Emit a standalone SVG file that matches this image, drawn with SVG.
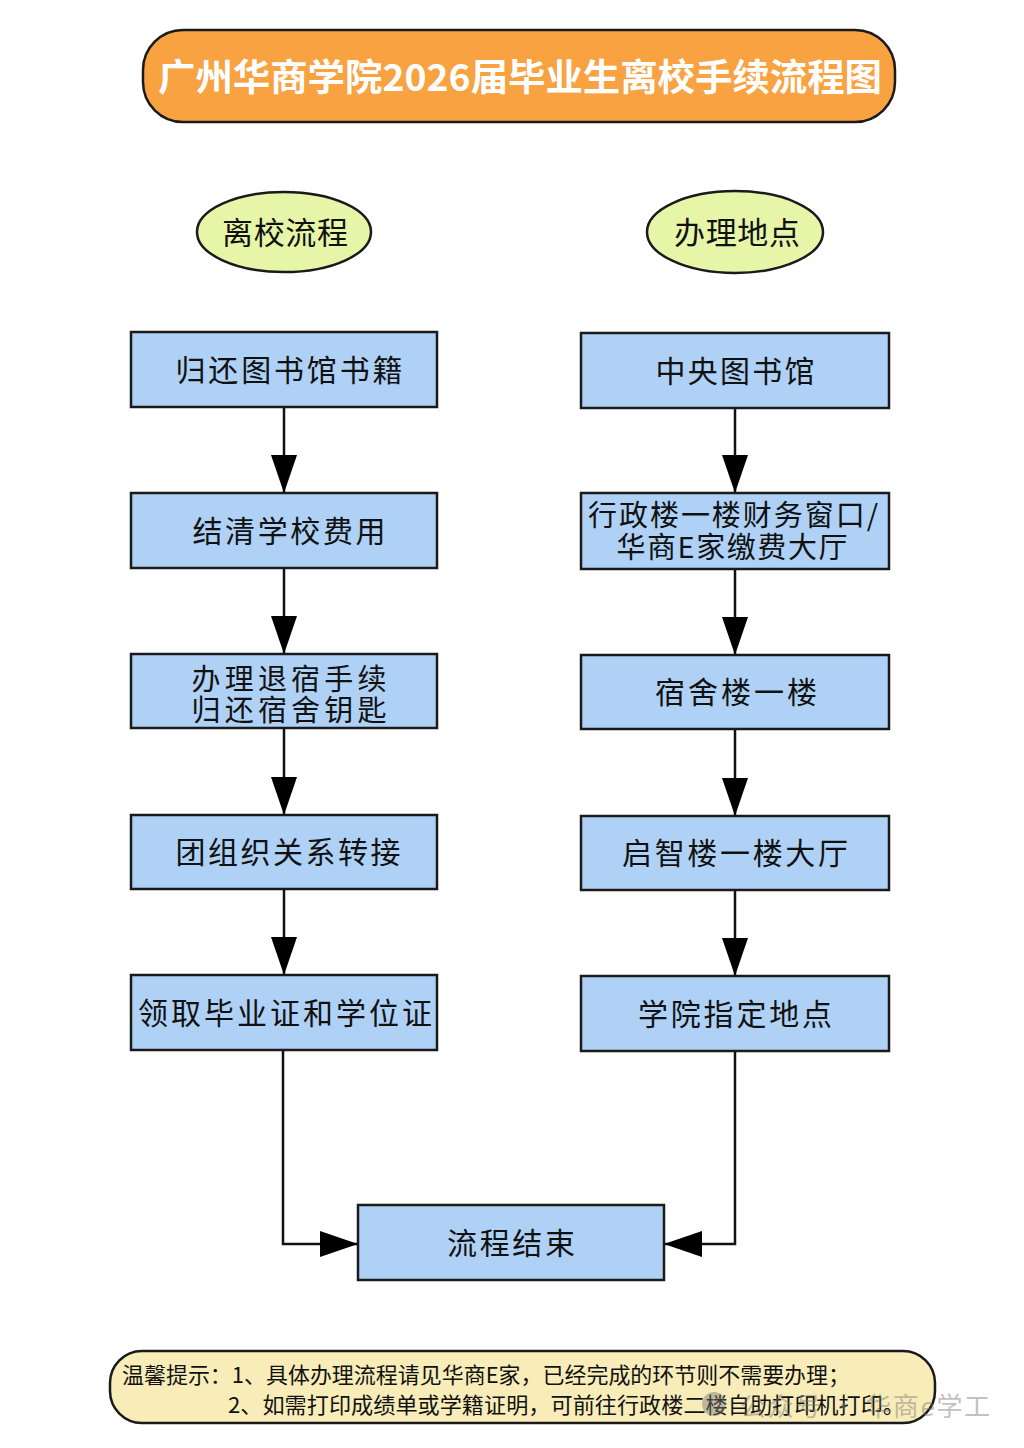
<svg xmlns="http://www.w3.org/2000/svg" width="1024" height="1448" viewBox="0 0 1024 1448">
<defs>
<style>
.t{font-family:"Noto Sans CJK SC","Liberation Sans",sans-serif;fill:#111;}
.box{fill:#AFD1F6;stroke:#1a1a1a;stroke-width:2.5;}
.ell{fill:#E6F5A8;stroke:#1a1a1a;stroke-width:2.5;}
.ln{fill:none;stroke:#111;stroke-width:2.5;}
</style>
<marker id="ah" viewBox="0 0 38 26" refX="38" refY="13" markerWidth="38" markerHeight="26" orient="auto" markerUnits="userSpaceOnUse">
<path d="M0,0 L38,13 L0,26 z" fill="#000"/>
</marker>
</defs>
<rect width="1024" height="1448" fill="#ffffff"/>

<g id="title">
<rect x="143" y="30" width="752" height="92" rx="40" ry="40" fill="#F9A241" stroke="#1a1a1a" stroke-width="2.5"/>
<text x="520" y="91" text-anchor="middle" font-size="37" font-weight="bold" fill="#ffffff" font-family="Noto Sans CJK SC, Liberation Sans, sans-serif" textLength="724" lengthAdjust="spacingAndGlyphs">广州华商学院2026届毕业生离校手续流程图</text>
</g>

<g id="head-left">
<ellipse class="ell" cx="284" cy="232" rx="87" ry="40"/>
<text class="t" x="285" y="244" text-anchor="middle" font-size="31" textLength="126" lengthAdjust="spacing">离校流程</text>
</g>
<g id="head-right">
<ellipse class="ell" cx="735" cy="232" rx="88" ry="41"/>
<text class="t" x="737" y="244" text-anchor="middle" font-size="31" textLength="126" lengthAdjust="spacing">办理地点</text>
</g>

<g id="connectors">
<line class="ln" x1="284" y1="407" x2="284" y2="493" marker-end="url(#ah)"/>
<line class="ln" x1="284" y1="568" x2="284" y2="654" marker-end="url(#ah)"/>
<line class="ln" x1="284" y1="728" x2="284" y2="815" marker-end="url(#ah)"/>
<line class="ln" x1="284" y1="889" x2="284" y2="975" marker-end="url(#ah)"/>
<line class="ln" x1="735" y1="408" x2="735" y2="493" marker-end="url(#ah)"/>
<line class="ln" x1="735" y1="569" x2="735" y2="655" marker-end="url(#ah)"/>
<line class="ln" x1="735" y1="729" x2="735" y2="816" marker-end="url(#ah)"/>
<line class="ln" x1="735" y1="890" x2="735" y2="976" marker-end="url(#ah)"/>
<polyline class="ln" points="283,1050 283,1244 358,1244" marker-end="url(#ah)"/>
<polyline class="ln" points="735,1051 735,1244 664,1244" marker-end="url(#ah)"/>
</g>

<g id="L1">
<rect class="box" x="131" y="332" width="306" height="75"/>
<text class="t" x="289" y="381" text-anchor="middle" font-size="30" textLength="227" lengthAdjust="spacing">归还图书馆书籍</text>
</g>
<g id="L2">
<rect class="box" x="131" y="493" width="306" height="75"/>
<text class="t" x="289" y="542" text-anchor="middle" font-size="30" textLength="193" lengthAdjust="spacing">结清学校费用</text>
</g>
<g id="L3">
<rect class="box" x="131" y="654" width="306" height="74"/>
<text class="t" x="289" y="690" text-anchor="middle" font-size="29" textLength="195" lengthAdjust="spacing">办理退宿手续</text>
<text class="t" x="289" y="721" text-anchor="middle" font-size="29" textLength="195" lengthAdjust="spacing">归还宿舍钥匙</text>
</g>
<g id="L4">
<rect class="box" x="131" y="815" width="306" height="74"/>
<text class="t" x="288" y="863" text-anchor="middle" font-size="30" textLength="225" lengthAdjust="spacing">团组织关系转接</text>
</g>
<g id="L5">
<rect class="box" x="131" y="975" width="306" height="75"/>
<text class="t" x="285" y="1024" text-anchor="middle" font-size="30" textLength="294" lengthAdjust="spacing">领取毕业证和学位证</text>
</g>

<g id="R1">
<rect class="box" x="581" y="333" width="308" height="75"/>
<text class="t" x="735" y="382" text-anchor="middle" font-size="30" textLength="159" lengthAdjust="spacing">中央图书馆</text>
</g>
<g id="R2">
<rect class="box" x="581" y="493" width="308" height="76"/>
<text class="t" x="733" y="526" text-anchor="middle" font-size="29" textLength="290" lengthAdjust="spacing">行政楼一楼财务窗口/</text>
<text class="t" x="732" y="558" text-anchor="middle" font-size="29" textLength="231" lengthAdjust="spacing">华商E家缴费大厅</text>
</g>
<g id="R3">
<rect class="box" x="581" y="655" width="308" height="74"/>
<text class="t" x="736" y="703" text-anchor="middle" font-size="30" textLength="162" lengthAdjust="spacing">宿舍楼一楼</text>
</g>
<g id="R4">
<rect class="box" x="581" y="816" width="308" height="74"/>
<text class="t" x="735" y="864" text-anchor="middle" font-size="30" textLength="226" lengthAdjust="spacing">启智楼一楼大厅</text>
</g>
<g id="R5">
<rect class="box" x="581" y="976" width="308" height="75"/>
<text class="t" x="735" y="1025" text-anchor="middle" font-size="30" textLength="194" lengthAdjust="spacing">学院指定地点</text>
</g>

<g id="end">
<rect class="box" x="358" y="1205" width="306" height="75"/>
<text class="t" x="511" y="1254" text-anchor="middle" font-size="30" textLength="128" lengthAdjust="spacing">流程结束</text>
</g>

<g id="note">
<rect x="110" y="1351" width="825" height="72" rx="32" ry="32" fill="#F8EDB9" stroke="#1a1a1a" stroke-width="2.5"/>
<text class="t" x="122" y="1383" font-size="22" textLength="728" lengthAdjust="spacingAndGlyphs">温馨提示：1、具体办理流程请见华商E家，已经完成的环节则不需要办理；</text>
<text class="t" x="228" y="1413" font-size="22" textLength="677" lengthAdjust="spacingAndGlyphs">2、如需打印成绩单或学籍证明，可前往行政楼二楼自助打印机打印。</text>
</g>

<g id="watermark" opacity="0.45">
<circle cx="714" cy="1404" r="12" fill="#777"/>
<text x="740" y="1416" font-size="26" fill="#777" font-family="Noto Sans CJK SC, Liberation Sans, sans-serif" textLength="250" lengthAdjust="spacing">公众号 · 华商e学工</text>
</g>
</svg>
